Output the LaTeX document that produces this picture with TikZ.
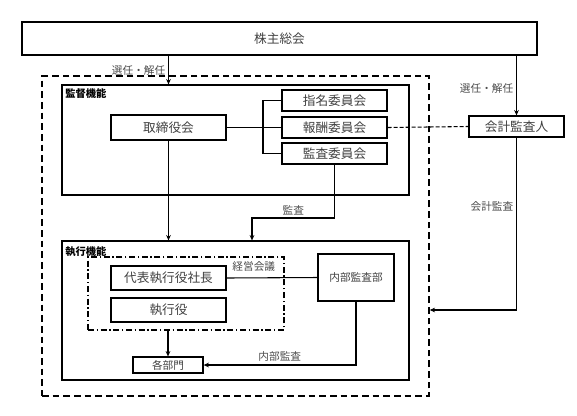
\documentclass[tikz,border=0pt]{standalone}
\usepackage{fontspec}
\setmainfont{Noto Sans CJK JP}
\usetikzlibrary{arrows.meta}

\tikzset{
  box/.style={draw, line width=0.9pt, text=black!75, inner sep=0pt,
    font=\fontsize{9.5}{10}\selectfont},
  smallbox/.style={box, font=\fontsize{8}{9}\selectfont},
  region/.style={draw, line width=0.9pt, inner sep=0pt},
  lbl/.style={text=black!70, inner sep=2pt, font=\fontsize{8}{9}\selectfont},
  head/.style={anchor=west, inner sep=0pt, font=\bfseries\fontsize{7.7}{9}\selectfont},
  link/.style={line width=0.8pt},
  arr/.style={link, -{Stealth[length=4pt,width=3.5pt]}},
}

\begin{document}
\begin{tikzpicture}[x=0.75pt, y=-0.75pt]
  \useasboundingbox (0,0) rectangle (577,415);

  % regions
  \node[region, dash pattern=on 5pt off 3pt, line width=1.1pt,
        minimum width=290.25pt, minimum height=240pt] (outer) at (235.5,236) {};
  \node[region, minimum width=260.25pt, minimum height=82.5pt] (kantoku) at (235.5,140) {};
  \node[region, minimum width=260.25pt, minimum height=104.25pt] (shikko) at (235.5,310.5) {};
  \node[region, dash pattern=on 4.5pt off 2pt on 1pt off 2pt, line width=1.1pt,
        minimum width=147pt, minimum height=54.75pt] (kaigi) at (186,293.5) {};
  \node[head] (kantoku-head) at (65,93.5) {監督機能};
  \node[head] (shikko-head) at (65,251.5) {執行機能};
  \node[lbl, anchor=north east] (kaigi-head) at ([shift={(-5pt,-2pt)}]kaigi.north east) {経営会議};

  % boxes
  \node[box, minimum width=386.25pt, minimum height=24.75pt] (top) at (279.5,38.5) {株主総会};
  \node[box, minimum width=86.25pt, minimum height=18.75pt] (board) at (168.5,127.5) {取締役会};
  \node[box, minimum width=78.75pt, minimum height=15.75pt] (nomin) at (334.5,100.5) {指名委員会};
  \node[box, minimum width=78.75pt, minimum height=15.75pt] (remun) at (334.5,127.5) {報酬委員会};
  \node[box, minimum width=78.75pt, minimum height=15.75pt] (audit) at (334.5,153.5) {監査委員会};
  \node[box, minimum width=71.25pt, minimum height=15.75pt] (auditor) at (516.5,126.5) {会計監査人};
  \node[box, minimum width=86.25pt, minimum height=18pt] (ceo) at (168.5,278) {代表執行役社長};
  \node[box, minimum width=86.25pt, minimum height=18pt] (officer) at (168.5,310) {執行役};
  \node[smallbox, minimum width=57pt, minimum height=35.25pt] (naibu) at (356,277.5) {内部監査部};
  \node[smallbox, minimum width=52.5pt, minimum height=12pt] (depts) at (168,365) {各部門};

  \coordinate (brk) at (263,127.5);
  \coordinate (kansa) at (252,218);
  \coordinate (acc) at (0,310);

  % connectors
  \draw[arr] (board |- top.south) -- (board |- kantoku.north)
    node[lbl, left, midway] (elect-l) {選任・解任};
  \draw[arr] (auditor |- top.south) -- (auditor.north)
    node[lbl, left, pos=0.55] (elect-r) {選任・解任};
  \draw[link] (nomin.west) -| (brk) |- (audit.west);
  \draw[link] (board.east) -- (remun.west);
  \draw[link, dash pattern=on 3pt off 1.5pt] (remun.east) -- (auditor.west);
  \draw[arr] (auditor.south) |- (outer.east |- acc)
    node[lbl, left, pos=0.2] (acc-l) {会計監査};
  \draw[arr] (board.south) -- (board |- shikko.north);
  \draw[arr] (audit.south) |- (kansa) node[lbl, above, pos=0.75] (kansa-l) {監査}
    -- (kansa |- shikko.north);
  \draw[link] (ceo.east) -- (naibu.west);
  \draw[arr] (depts |- kaigi.south) -- (depts.north);
  \draw[arr] (naibu.south) |- (depts.east)
    node[lbl, above, pos=0.75] (naibu-l) {内部監査};
\end{tikzpicture}
\end{document}
